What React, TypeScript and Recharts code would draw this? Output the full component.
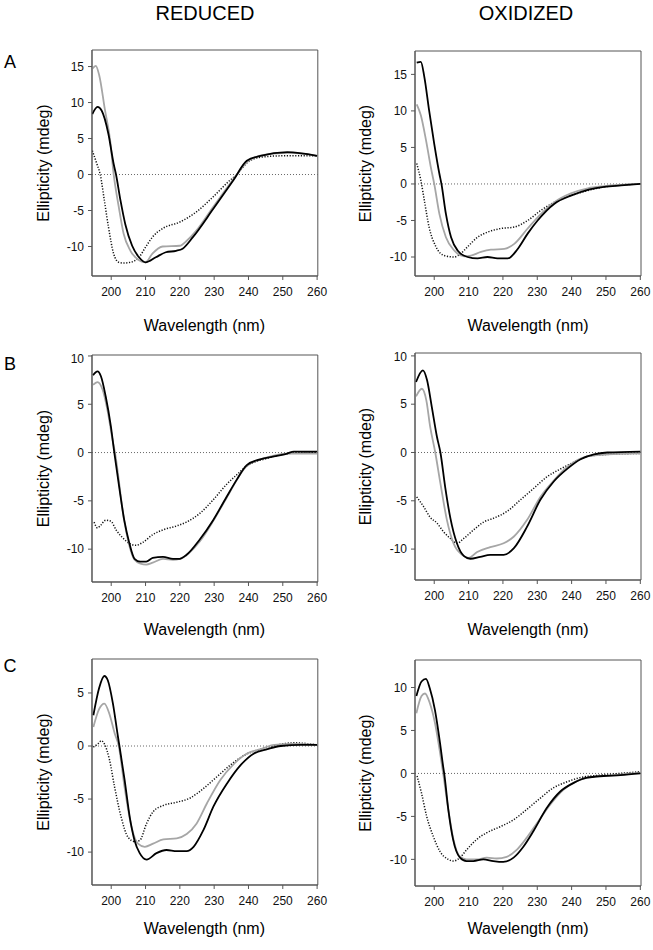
import React from 'react';
import { LineChart, Line, XAxis, YAxis, ReferenceLine, ReferenceArea } from 'recharts';

// ---- data: [wavelength nm, ellipticity mdeg] ----
const A_RED_BLACK: [number, number][] = [
  [194.5, 8.4], [196, 9.4], [197.2, 8.9], [199.2, 5.6], [200.7, 1.5], [201.4, 0], [202.7, -3.6], [204.1, -6.9],
  [206.1, -9.9], [208.1, -11.5], [210, -12.2], [213, -11.5], [215.9, -10.8], [218.9, -10.6], [220.8, -10.3],
  [223.8, -8.7], [229.7, -4.8], [235.6, -0.8], [239.5, 1.9], [243.5, 2.6], [251.3, 3.1], [260, 2.6],
];
const A_RED_GRAY: [number, number][] = [
  [194.5, 14.7], [195.5, 15.1], [196.5, 13.8], [198.2, 8.9], [199.7, 4.7], [200.7, 0.1], [202.2, -4.5], [203.6, -8.2],
  [205.6, -10.6], [208.1, -11.9], [210, -12.2], [212, -11], [215, -10], [220, -9.9], [222, -9.2], [224.8, -7.8],
  [229.7, -4.5], [234.6, -1.3], [236.6, 0], [239.5, 1.7], [242.5, 2.5], [247.4, 2.9], [252.3, 3.0], [260, 2.6],
];
const A_RED_DOTTED: [number, number][] = [
  [194.5, 3.3], [195.8, 1.5], [196.8, 0], [198, -3.6], [199.2, -7.3], [200.7, -11], [202.2, -12.2], [203.6, -12.3],
  [205.6, -12.2], [208.1, -11.5], [210, -10.1], [212, -8.7], [215, -7.5], [220, -6.6], [224.8, -5.2], [229.7, -3.1],
  [234.6, -0.8], [236.6, 0], [239.5, 1.6], [243.5, 2.4], [250.3, 2.6], [260, 2.6],
];

const A_OX_BLACK: [number, number][] = [
  [194.9, 16.6], [196.1, 16.7], [197.1, 14.7], [198.5, 10.1], [200, 5.5], [201.5, 1.4], [202.1, 0], [203.4, -4.1],
  [204.9, -7.3], [206.8, -9.1], [209.7, -10], [212.6, -10.2], [215.5, -10], [218.4, -10.2], [221.4, -10.2],
  [224.3, -8.9], [227.2, -6.8], [230.1, -5], [235, -2.7], [239.8, -1.6], [244.7, -0.8], [249.5, -0.4], [254.4, -0.2], [260, 0],
];
const A_OX_GRAY: [number, number][] = [
  [194.9, 10.9], [196.1, 9.4], [197.6, 6], [199, 2.3], [200, 0], [201.5, -4.1], [203.4, -7.3], [205.8, -9.1],
  [208.7, -9.9], [210.7, -9.8], [213.6, -9.3], [216.5, -9], [220.4, -8.9], [223.3, -8.2], [227.2, -6.1],
  [231.1, -4.1], [235, -2.5], [239.8, -1.3], [244.7, -0.6], [249.5, -0.3], [260, 0],
];
const A_OX_DOTTED: [number, number][] = [
  [194.9, 2.8], [196.1, 0.5], [197.1, -2.2], [198.5, -5.9], [200.5, -8.6], [202.9, -9.8], [205.8, -10], [207.8, -9.5],
  [209.7, -8.6], [212.6, -7.3], [215.5, -6.6], [219.4, -6.1], [223.3, -5.9], [227.2, -5], [231.1, -3.6], [235, -2.5],
  [239.8, -1.6], [244.7, -0.9], [249.5, -0.4], [260, 0],
];

const B_RED_BLACK: [number, number][] = [
  [194.7, 8.0], [196, 8.4], [197, 7.9], [198.4, 5.8], [199.9, 2.7], [200.9, 0], [202.3, -3.5], [203.8, -7],
  [205.3, -9.4], [206.8, -11.0], [208.5, -11.3], [210.2, -11.3], [212.1, -10.9], [215.1, -10.8], [218, -11],
  [220, -11], [221.9, -10.6], [225.8, -9], [229.7, -7], [233.6, -4.6], [236.6, -2.8], [239.5, -1.3], [243.4, -0.7],
  [247.4, -0.4], [251.3, -0.1], [253.2, 0.1], [260, 0.1],
];
const B_RED_GRAY: [number, number][] = [
  [194.7, 7.0], [196, 7.3], [197.5, 6.5], [198.9, 4.4], [200.4, 1.3], [201.1, 0], [203.8, -7.1], [206.8, -11.1],
  [208.5, -11.5], [210.2, -11.6], [212.1, -11.4], [215.1, -11], [218, -11.1], [220, -11], [225.8, -9.2], [229.7, -7.1],
  [233.6, -4.7], [239.5, -1.4], [245.4, -0.5], [251.3, -0.1], [260, -0.1],
];
const B_RED_DOTTED: [number, number][] = [
  [195, -7.2], [196, -7.8], [197, -7.5], [198.4, -7.0], [199.9, -7.1], [201.4, -8.0], [203.3, -8.8], [205.8, -9.5],
  [207.2, -9.6], [209.2, -9.3], [212.1, -8.5], [215.1, -8.0], [219, -7.6], [221.9, -7.2], [225.8, -6.3], [229.7, -4.9],
  [233.6, -3.3], [236.6, -2.3], [239.5, -1.4], [245.4, -0.6], [251.3, -0.1], [260, 0],
];

const B_OX_BLACK: [number, number][] = [
  [194.7, 7.3], [196.7, 8.5], [197.9, 7.5], [199.3, 4.7], [200.8, 1.6], [201.8, 0], [203.2, -3.6], [204.7, -6.8],
  [206.6, -9.4], [208.6, -10.7], [210.5, -11.0], [213.4, -10.8], [216.3, -10.6], [220.2, -10.6], [223.2, -9.9],
  [227, -7.7], [230.9, -4.9], [234.8, -3], [238.7, -1.7], [242.6, -0.7], [246.5, -0.2], [250.4, 0], [260, 0.1],
];
const B_OX_GRAY: [number, number][] = [
  [194.7, 5.8], [196.4, 6.6], [197.7, 5.4], [198.8, 2.7], [200.3, 0], [201.8, -3.2], [203.7, -7], [205.6, -9.4],
  [208.1, -10.6], [210, -10.9], [212.5, -10.3], [216.3, -9.8], [220.2, -9.4], [223.2, -8.7], [227, -7], [230.9, -4.6],
  [234.8, -2.9], [238.7, -1.5], [244.6, -0.4], [250.4, -0.2], [260, -0.1],
];
const B_OX_DOTTED: [number, number][] = [
  [194.9, -4.6], [196.9, -5.6], [198.8, -6.7], [200.8, -7.3], [202.7, -8.2], [204.7, -8.9], [206.6, -9.4], [208.6, -8.9],
  [211.5, -8.0], [214.4, -7.2], [217.3, -6.8], [221.2, -6.1], [225.1, -4.9], [229, -3.7], [232.9, -2.5], [236.8, -1.7],
  [240.7, -1.0], [244.6, -0.4], [250.4, -0.2], [260, -0.1],
];

const C_RED_BLACK: [number, number][] = [
  [194.8, 2.9], [196.5, 5.5], [198, 6.6], [199, 6.2], [200.5, 4], [202, 0.8], [202.4, 0], [203.9, -3.2], [205.4, -6.7],
  [206.8, -8.9], [208.3, -10.1], [210.3, -10.7], [213.2, -10.1], [216.1, -9.8], [219.1, -9.9], [222, -9.9], [224, -9.5],
  [226.9, -7.9], [229.8, -5.7], [233.8, -3.5], [237.7, -1.8], [241.6, -0.7], [245.5, -0.3], [249.4, 0], [255.3, 0.1], [260, 0.1],
];
const C_RED_GRAY: [number, number][] = [
  [194.8, 1.8], [196.5, 3.5], [198, 4], [199.5, 3], [201, 1.2], [202.2, 0], [203.9, -3.9], [205.9, -7.6], [207.8, -9.2],
  [209.8, -9.5], [212.2, -9.2], [215.2, -8.8], [219.1, -8.7], [222, -8.3], [224.9, -7.3], [227.9, -5.4], [231.8, -3.2],
  [235.7, -1.7], [239.6, -0.7], [243.5, -0.3], [247.5, 0.1], [253.3, 0.2], [260, 0.1],
];
const C_RED_DOTTED: [number, number][] = [
  [194.8, -0.1], [196.1, 0.2], [197.1, 0.5], [198, 0.2], [199.5, -1.3], [201, -3.9], [202.9, -6.7], [204.9, -8.6],
  [206.8, -9.0], [208.3, -8.9], [210.3, -7.3], [212.2, -6.2], [215.2, -5.6], [219.1, -5.3], [223, -4.9], [226.9, -4.0],
  [230.8, -2.9], [234.7, -1.8], [238.6, -0.9], [243.5, -0.3], [248.4, 0.1], [253.3, 0.3], [260, 0.1],
];

const C_OX_BLACK: [number, number][] = [
  [194.8, 9.0], [196.3, 10.7], [197.6, 11.0], [198.7, 9.9], [200.2, 7.4], [201.7, 3.5], [202.6, 0.8], [202.9, 0],
  [204.1, -4.2], [205.5, -7.7], [207.5, -9.8], [209.4, -10.2], [211.4, -10.2], [214.3, -10.0], [217.2, -10.2],
  [220.1, -10.3], [223.1, -9.8], [226, -8.5], [228.9, -6.7], [232.8, -4.0], [236.7, -2.1], [240.6, -1.1],
  [244.5, -0.5], [249.3, -0.3], [254.2, -0.2], [260, 0],
];
const C_OX_GRAY: [number, number][] = [
  [194.8, 7.0], [196.3, 9.0], [197.3, 9.3], [198.7, 8.2], [200.2, 5.9], [201.7, 2.4], [202.6, 0], [204.1, -4.2],
  [205.5, -7.5], [207.5, -9.7], [209.4, -10.0], [212.3, -10.0], [215.3, -9.8], [218.2, -9.9], [221.1, -9.7],
  [224, -8.9], [226.9, -7.5], [229.9, -5.8], [233.8, -3.6], [237.6, -1.9], [241.5, -0.9], [246.4, -0.4], [252.2, -0.2], [260, 0.1],
];
const C_OX_DOTTED: [number, number][] = [
  [195, -0.3], [196.3, -2.3], [197.8, -5], [199.7, -7.3], [201.7, -9.1], [204.1, -10], [205.5, -10.2], [207.5, -9.8],
  [209.4, -8.9], [212.3, -7.7], [215.3, -6.9], [219.2, -6.2], [223.1, -5.4], [226.9, -4.2], [230.8, -2.9], [234.6, -1.7],
  [238.5, -1.0], [242.4, -0.5], [248.2, -0.2], [254.1, 0], [260, 0.2],
];

const X_TICKS = [200, 210, 220, 230, 240, 250, 260];
const Y_TICKS_A_RED = [-10, -5, 0, 5, 10, 15];
const Y_TICKS_A_OX = [-10, -5, 0, 5, 10, 15];
const Y_TICKS_B = [-10, -5, 0, 5, 10];
const Y_TICKS_C_RED = [-10, -5, 0, 5];
const Y_TICKS_C_OX = [-10, -5, 0, 5, 10];

const COLUMN_TITLES = ['REDUCED', 'OXIDIZED'];
const ROW_LABELS = ['A', 'B', 'C'];
const X_LABEL = 'Wavelength (nm)';
const Y_LABEL = 'Ellipticity (mdeg)';

const FONT = '"Liberation Sans", Arial, Helvetica, sans-serif';
const X_DOMAIN: [number, number] = [194.4, 260.2];

const toRows = (arr: [number, number][]) => arr.map(([nm, v]) => ({ nm, v }));

type Panel = {
  left: number; right: number; top: number; bottom: number;
  yDomain: [number, number]; yTicks: number[];
  black: [number, number][]; gray: [number, number][]; dotted: [number, number][];
};

const PANELS: Panel[] = [
  { left: 91.5, right: 317.3, top: 50, bottom: 276, yDomain: [-14.1, 17.3], yTicks: Y_TICKS_A_RED, black: A_RED_BLACK, gray: A_RED_GRAY, dotted: A_RED_DOTTED },
  { left: 415, right: 641, top: 51, bottom: 276, yDomain: [-12.6, 18.2], yTicks: Y_TICKS_A_OX, black: A_OX_BLACK, gray: A_OX_GRAY, dotted: A_OX_DOTTED },
  { left: 91.5, right: 317.3, top: 355, bottom: 582, yDomain: [-13.4, 10.1], yTicks: Y_TICKS_B, black: B_RED_BLACK, gray: B_RED_GRAY, dotted: B_RED_DOTTED },
  { left: 415, right: 641, top: 353, bottom: 580, yDomain: [-13.2, 10.3], yTicks: Y_TICKS_B, black: B_OX_BLACK, gray: B_OX_GRAY, dotted: B_OX_DOTTED },
  { left: 91.5, right: 317.3, top: 659, bottom: 885, yDomain: [-13.1, 8.2], yTicks: Y_TICKS_C_RED, black: C_RED_BLACK, gray: C_RED_GRAY, dotted: C_RED_DOTTED },
  { left: 415, right: 641, top: 660, bottom: 886, yDomain: [-13.1, 13.2], yTicks: Y_TICKS_C_OX, black: C_OX_BLACK, gray: C_OX_GRAY, dotted: C_OX_DOTTED },
];

const AXIS_COLOR = '#555';
const Y_W = 40;
const X_H = 30;
const M_TOP = 4;
const M_RIGHT = 12;

function PanelChart({ p }: { p: Panel }) {
  const w = p.right - p.left + Y_W + M_RIGHT;
  const h = p.bottom - p.top + M_TOP + X_H;
  const tickStyle = { fill: '#111', fontSize: 12, fontFamily: FONT };
  return (
    <div style={{ position: 'absolute', left: p.left - Y_W, top: p.top - M_TOP }}>
      <LineChart width={w} height={h} margin={{ top: M_TOP, right: M_RIGHT, left: 0, bottom: 0 }}>
        <XAxis
          type="number" dataKey="nm" domain={X_DOMAIN} ticks={X_TICKS} allowDataOverflow
          height={X_H} tickSize={4} tickMargin={7} tick={tickStyle}
          stroke={AXIS_COLOR} axisLine={{ stroke: AXIS_COLOR }} tickLine={{ stroke: AXIS_COLOR }}
        />
        <YAxis
          type="number" domain={p.yDomain} ticks={p.yTicks} allowDataOverflow width={Y_W}
          tickSize={4} tickMargin={4} tick={tickStyle}
          stroke={AXIS_COLOR} axisLine={{ stroke: AXIS_COLOR }} tickLine={{ stroke: AXIS_COLOR }}
        />
        <ReferenceArea
          x1={X_DOMAIN[0]} x2={X_DOMAIN[1]} y1={p.yDomain[0]} y2={p.yDomain[1]}
          fill="none" fillOpacity={0} stroke={AXIS_COLOR} strokeWidth={1} ifOverflow="visible"
        />
        <ReferenceLine y={0} stroke="#666" strokeWidth={1} strokeDasharray="1 2" />
        <Line data={toRows(p.dotted)} dataKey="v" type="monotone" stroke="#111" strokeWidth={1.5}
          strokeDasharray="1.2 1.6" dot={false} isAnimationActive={false} />
        <Line data={toRows(p.gray)} dataKey="v" type="monotone" stroke="#a6a6a6" strokeWidth={1.8}
          dot={false} isAnimationActive={false} />
        <Line data={toRows(p.black)} dataKey="v" type="monotone" stroke="#000" strokeWidth={1.8}
          dot={false} isAnimationActive={false} />
      </LineChart>
    </div>
  );
}

const COL_CENTERS = [205, 526];
const Y_LABEL_X = [43, 365];
const X_LABEL_Y = [325, 629, 928];
const ROW_LABEL_Y = [62, 364, 666];

export default function App() {
  return (
    <div style={{ position: 'absolute', left: 0, top: 0, width: 653, height: 950, background: '#fff', overflow: 'hidden' }}>
      <svg width={653} height={950} style={{ position: 'absolute', left: 0, top: 0 }}>
        {COLUMN_TITLES.map((t, i) => (
          <text key={t} x={COL_CENTERS[i]} y={13} textAnchor="middle" dominantBaseline="central"
            fontFamily={FONT} fontSize={20} fill="#000">{t}</text>
        ))}
        {ROW_LABELS.map((t, i) => (
          <text key={t} x={10} y={ROW_LABEL_Y[i]} textAnchor="middle" dominantBaseline="central"
            fontFamily={FONT} fontSize={18} fill="#000">{t}</text>
        ))}
        {PANELS.map((p, i) => {
          const col = i % 2;
          const row = Math.floor(i / 2);
          const cx = (p.left + p.right) / 2;
          const cy = (p.top + p.bottom) / 2;
          return (
            <g key={i}>
              <text x={cx} y={X_LABEL_Y[row]} textAnchor="middle" dominantBaseline="central"
                fontFamily={FONT} fontSize={16} fill="#000">{X_LABEL}</text>
              <text x={Y_LABEL_X[col]} y={cy} textAnchor="middle" dominantBaseline="central"
                transform={`rotate(-90 ${Y_LABEL_X[col]} ${cy})`}
                fontFamily={FONT} fontSize={16} fill="#000">{Y_LABEL}</text>
            </g>
          );
        })}
      </svg>
      {PANELS.map((p, i) => <PanelChart key={i} p={p} />)}
    </div>
  );
}
